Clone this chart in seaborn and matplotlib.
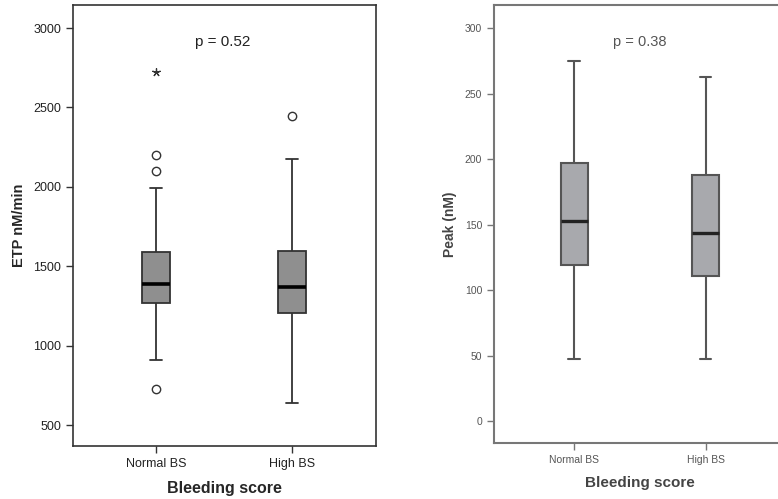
import numpy as np
import pandas as pd
import matplotlib
matplotlib.use("Agg")
import matplotlib.pyplot as plt
import seaborn as sns

# --- data ---
groups = ["Normal BS", "High BS"]

# ETP samples chosen so the box stats match the figure
# (whisker ends, quartiles, median and fliers)
etp_normal = [725, 909, 1266, 1266, 1266, 1388, 1388, 1388, 1388,
              1388, 1388, 1388, 1592, 1991, 2101, 2198, 2721]
etp_high = [641, 1207, 1207, 1369, 1369, 1369, 1596, 2175, 2448]
etp_out_normal = [725, 2101, 2198]
etp_out_high = [2448]
etp_extreme_normal = [2721]

# Peak: min, Q1, median, Q3, max
peak_normal = [47, 119, 153, 197, 275]
peak_high = [47, 111, 144, 188, 263]

p_etp = "p = 0.52"
p_peak = "p = 0.38"


def long_df(a, b):
    return pd.DataFrame({
        "group": [groups[0]] * len(a) + [groups[1]] * len(b),
        "value": list(a) + list(b),
    })


sns.set_style("white")
plt.rcParams["font.family"] = ["Liberation Sans", "DejaVu Sans"]

W, H = 778, 499
fig = plt.figure(figsize=(W / 100, H / 100), dpi=100)


def px_axes(x0, y0, x1, y1):
    return fig.add_axes([x0 / W, 1 - y1 / H, (x1 - x0) / W, (y1 - y0) / H])


def style_axes(ax, spine_color, lw):
    for s in ax.spines.values():
        s.set_visible(True)
        s.set_color(spine_color)
        s.set_linewidth(lw)
    ax.tick_params(axis="both", direction="out", length=5, width=1,
                   color=spine_color, left=True, bottom=True,
                   right=False, top=False)


# ---------------- left panel: ETP ----------------
ax1 = px_axes(73, 5, 376, 446)
sns.boxplot(data=long_df(etp_normal, etp_high), x="group", y="value",
            order=groups, width=0.206, color="#8f8f8f", linecolor="#333333",
            linewidth=1.3, saturation=1, showfliers=False, capwidths=0.085,
            medianprops={"color": "black", "linewidth": 2.6}, ax=ax1)
sns.stripplot(data=long_df(etp_out_normal, etp_out_high), x="group", y="value",
              order=groups, jitter=False, color="white", edgecolor="#333333",
              linewidth=1, size=6, ax=ax1, zorder=5)
star_df = pd.DataFrame({"group": [groups[0]] * len(etp_extreme_normal),
                        "value": etp_extreme_normal})
sns.stripplot(data=star_df, x="group", y="value", order=groups, jitter=False,
              marker=(5, 2, 0), color="#333333", linewidth=0.9, size=5.5,
              ax=ax1, zorder=5)
ax1.set_xlim(-0.61, 1.62)
ax1.set_ylim(368, 3145)
ax1.set_yticks([500, 1000, 1500, 2000, 2500, 3000])
style_axes(ax1, "#333333", 1.2)
ax1.tick_params(axis="both", labelsize=9, labelcolor="#222222")
ax1.set_xlabel("Bleeding score", fontsize=11.5, fontweight="bold", labelpad=8)
ax1.set_ylabel("ETP nM/min", fontsize=10.5, fontweight="bold", labelpad=5.5)
ax1.text(0.495, 0.916, p_etp, transform=ax1.transAxes, ha="center",
         va="center", fontsize=11, color="#222222")

# ---------------- right panel: Peak ----------------
ax2 = px_axes(494, 5.3, 800, 442.7)
sns.boxplot(data=long_df(peak_normal, peak_high), x="group", y="value",
            order=groups, width=0.211, color="#a8a9ad", linecolor="#555555",
            linewidth=1.5, saturation=1, showfliers=False, capwidths=0.09,
            medianprops={"color": "#222222", "linewidth": 2.4}, ax=ax2)
ax2.set_xlim(-0.613, 1.72)
ax2.set_ylim(-16.6, 317.6)
ax2.set_yticks([0, 50, 100, 150, 200, 250, 300])
style_axes(ax2, "#777777", 1.5)
ax2.tick_params(axis="both", labelsize=7.5, labelcolor="#555555")
ax2.set_xlabel("Bleeding score", fontsize=11, fontweight="bold",
               color="#444444")
ax2.xaxis.set_label_coords(0.477, -0.075)
ax2.set_ylabel("Peak (nM)", fontsize=10, fontweight="bold", color="#444444",
               labelpad=5.5)
ax2.text(0.477, 0.916, p_peak, transform=ax2.transAxes, ha="center",
         va="center", fontsize=10.5, color="#555555")

fig.savefig("out.png", dpi=100)
